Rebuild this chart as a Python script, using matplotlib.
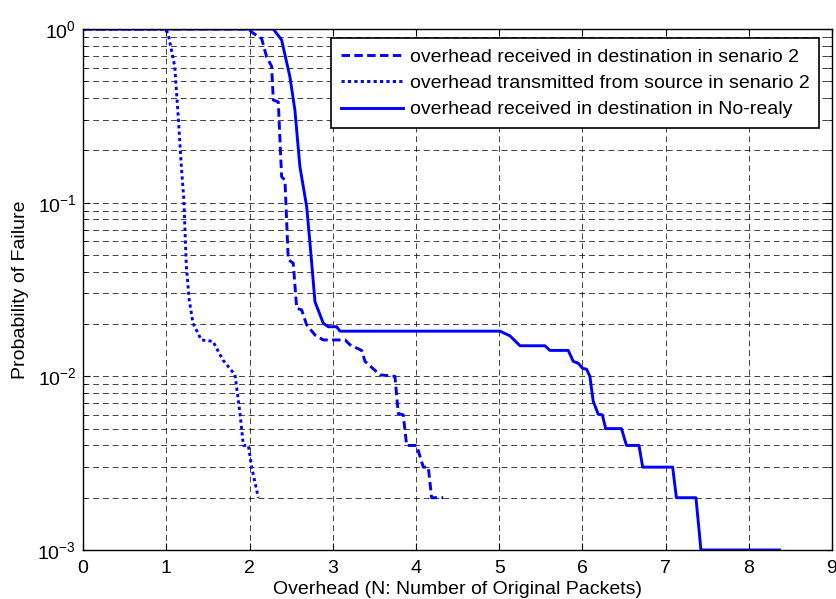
import matplotlib
matplotlib.use('Agg')
import matplotlib.pyplot as plt
from matplotlib.ticker import LogLocator, NullFormatter, MultipleLocator

plt.rcParams['font.family'] = ['Liberation Sans', 'DejaVu Sans']
plt.rcParams['mathtext.fontset'] = 'custom'
plt.rcParams['mathtext.rm'] = 'Liberation Sans'
plt.rcParams['mathtext.it'] = 'Liberation Sans:italic'
plt.rcParams['mathtext.bf'] = 'Liberation Sans:bold'

# overhead transmitted from source in senario 2 (dotted)
src_x = [0, 0.98, 1.02, 1.10, 1.143, 1.18, 1.21, 1.24, 1.275, 1.32, 1.42,
         1.56, 1.68, 1.825, 1.885, 1.925, 1.985, 2.025, 2.105]
src_y = [1.0, 1.0, 0.945, 0.61, 0.31, 0.161, 0.104, 0.043, 0.0275, 0.0202,
         0.0162, 0.0159, 0.0124, 0.0102, 0.0061, 0.0040, 0.0040, 0.0030, 0.0020]

# overhead received in destination in senario 2 (dashed)
dst2_x = [0, 1.985, 2.045, 2.145, 2.205, 2.265, 2.285, 2.345, 2.385, 2.425,
          2.465, 2.525, 2.566, 2.626, 2.686, 2.786, 2.886, 3.147, 3.207, 3.347,
          3.387, 3.567, 3.747, 3.787, 3.847, 3.888, 4.008, 4.088, 4.148, 4.188,
          4.328]
dst2_y = [1.0, 1.0, 0.945, 0.88, 0.69, 0.61, 0.39, 0.38, 0.141, 0.135,
          0.047, 0.0448, 0.0247, 0.0241, 0.0198, 0.0173, 0.0162, 0.0162, 0.0152,
          0.0141, 0.0122, 0.0102, 0.0100, 0.0061, 0.0060, 0.0040, 0.0040,
          0.0030, 0.0030, 0.0020, 0.0020]

# overhead received in destination in No-realy (solid)
norelay_x = [0, 2.285, 2.385, 2.485, 2.545, 2.605, 2.686, 2.726, 2.786, 2.886,
             2.946, 3.046, 3.087, 5.01, 5.13, 5.25, 5.55, 5.61, 5.83, 5.89,
             5.95, 6.004, 6.05, 6.09, 6.13, 6.19, 6.24, 6.28, 6.47, 6.53, 6.68,
             6.725, 7.085, 7.13, 7.365, 7.425, 8.37]
norelay_y = [1.0, 1.0, 0.865, 0.53, 0.34, 0.161, 0.095, 0.0584, 0.0269, 0.0202,
             0.0193, 0.0193, 0.0182, 0.0182, 0.0171, 0.0150, 0.0150, 0.0141,
             0.0141, 0.0122, 0.0119, 0.0111, 0.0110, 0.0100, 0.0072, 0.00605,
             0.0060, 0.0050, 0.0050, 0.0040, 0.0040, 0.0030, 0.0030, 0.0020,
             0.0020, 0.0010, 0.0010]

fig = plt.figure(figsize=(8.36, 5.99), dpi=100)
ax = fig.add_axes([0.0995, 0.0818, 0.8957, 0.8698])

ax.semilogy(dst2_x, dst2_y, color='#0000ff', lw=2.1, ls=(0, (2.9, 1.5)),
            label='overhead received in destination in senario 2')
ax.semilogy(src_x, src_y, color='#0000ff', lw=2.1, ls=(0, (1.1, 1.1)),
            label='overhead transmitted from source in senario 2')
ax.semilogy(norelay_x, norelay_y, color='#0000ff', lw=2.1, ls='-',
            label='overhead received in destination in No-realy')

ax.set_xlim(0, 9)
ax.set_ylim(1e-3, 1)
ax.xaxis.set_major_locator(MultipleLocator(1))
ax.yaxis.set_major_locator(LogLocator(base=10, numticks=10))
ax.yaxis.set_minor_locator(LogLocator(base=10, subs=range(2, 10), numticks=10))
ax.yaxis.set_minor_formatter(NullFormatter())

grid_style = dict(color='black', ls=(0, (6, 4)), lw=0.7, alpha=0.75)
ax.grid(True, which='major', axis='both', **grid_style)
ax.grid(True, which='minor', axis='y', **grid_style)

ax.tick_params(which='both', direction='in', top=True, right=True,
               labelsize=14)
ax.tick_params(axis='x', pad=7)
ax.tick_params(axis='y', pad=5)
ax.tick_params(which='major', length=5)
ax.tick_params(which='minor', length=3)
for s in ax.spines.values():
    s.set_linewidth(1.0)

ax.set_xlabel('Overhead (N: Number of Original Packets)', fontsize=14,
              labelpad=3)
ax.set_ylabel('Probability of Failure', fontsize=14, labelpad=6)

leg = ax.legend(loc='upper right', bbox_to_anchor=(0.983, 0.982),
                fontsize=14, frameon=True, fancybox=False, framealpha=1,
                edgecolor='black', handlelength=3.2, borderpad=0.5,
                labelspacing=0.45, handletextpad=0.35, borderaxespad=0)
leg.get_frame().set_linewidth(1.2)

fig.savefig('out.png', dpi=100)
